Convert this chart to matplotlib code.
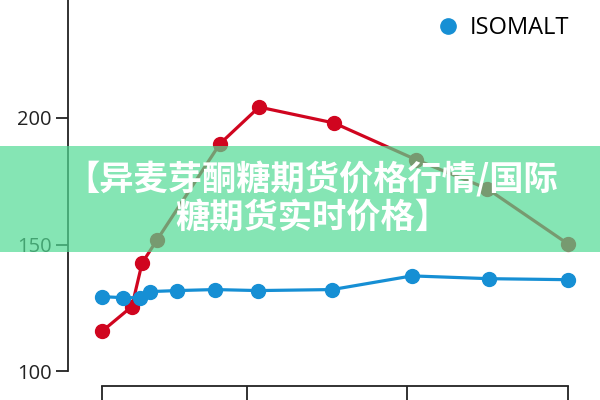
import matplotlib
matplotlib.use("Agg")
import matplotlib.pyplot as plt
from matplotlib.lines import Line2D
from matplotlib.patches import Rectangle

# values (x on a 0..100 scale between first and last tick)
red_x = [0, 6.4, 8.6, 11.8, 25.3, 33.7, 49.8, 67.4, 82.6, 100]
red_y = [115.7, 125.5, 142.7, 151.8, 189.8, 204.3, 198.0, 183.5, 172.1, 150.2]
iso_x = [0, 4.5, 8.2, 10.3, 16.1, 24.2, 33.5, 49.4, 66.5, 83.0, 100]
iso_y = [129.4, 129.0, 129.0, 131.4, 131.8, 132.2, 131.8, 132.2, 137.6, 136.5, 136.1]
x_ticks = [0, 31.1, 65.5, 100]
y_ticks = [100, 150, 200, 250]
legend_label = "ISOMALT"
banner_text = "【异麦芽酮糖期货价格行情/国际\n糖期货实时价格】"

RED = "#d0051f"
BLUE = "#168fd4"
BANNER = "#52da94"

fig = plt.figure(figsize=(6, 4), dpi=100)
fig.patch.set_facecolor("white")

# axes reach above the canvas, like the cropped reference
ax = fig.add_axes([68 / 600, 14 / 400, 522 / 600, 406 / 400])
ax.set_xlim(-7.3, 104.7)
ax.set_ylim(94.1, 254.5)

ax.plot(red_x, red_y, color=RED, linewidth=2.3, marker="o", markersize=10, zorder=3)
ax.plot(iso_x, iso_y, color=BLUE, linewidth=2.3, marker="o", markersize=10, zorder=3)

for side in ["top", "right"]:
    ax.spines[side].set_visible(False)
ax.spines["left"].set_bounds(100, 254.5)
ax.spines["bottom"].set_bounds(0, 100)
for side in ["left", "bottom"]:
    ax.spines[side].set_color("#222222")
    ax.spines[side].set_linewidth(1.3)

ax.set_yticks(y_ticks)
ax.set_yticklabels([str(v) for v in y_ticks])
ax.set_xticks(x_ticks)
ax.set_xticklabels([])
ax.tick_params(axis="y", direction="out", length=9, width=1.3, color="#222222",
               labelsize=14.5, labelcolor="#222222", pad=3)
ax.tick_params(axis="x", direction="out", length=14, width=1.3, color="#222222")
for lab in ax.get_yticklabels():
    lab.set_family("Open Sans")

handle = Line2D([], [], marker="o", linestyle="", color=BLUE, markersize=11)
ax.legend([handle], [legend_label], frameon=False, loc="center left",
          bbox_to_anchor=(415 / 600, 1 - 28 / 400), bbox_transform=fig.transFigure,
          handlelength=1.0, handletextpad=0.4, prop={"family": "Open Sans", "size": 17})

fig.patches.append(Rectangle((0, 1 - 252 / 400), 1, 106 / 400, transform=fig.transFigure,
                             facecolor=BANNER, alpha=0.7, edgecolor="none", zorder=5))
fig.text(0.52, 1 - 198 / 400, banner_text, ha="center", va="center",
         multialignment="center", color="white", fontsize=24.7, fontweight="bold",
         family=["Noto Sans CJK SC", "DejaVu Sans"], linespacing=1.1, zorder=6)

fig.savefig("out.png", dpi=100)
